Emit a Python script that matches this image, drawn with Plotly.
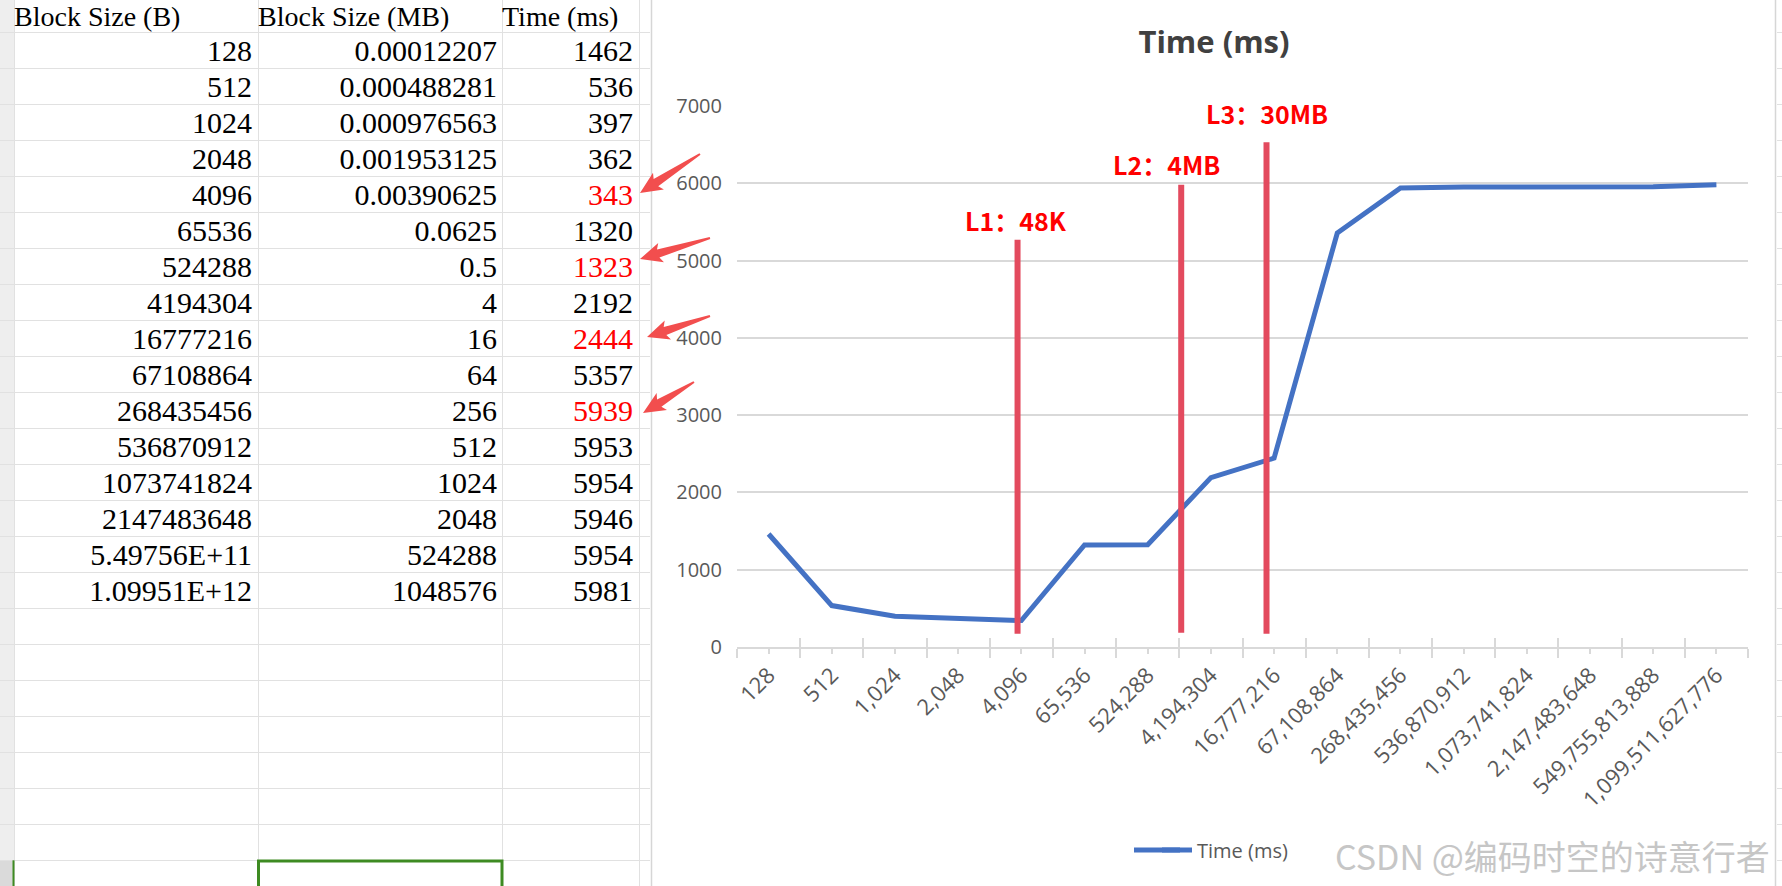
import math
from decimal import Decimal, ROUND_HALF_UP
import plotly.graph_objects as go

# ---------------- data ----------------
block_size_b = [128, 512, 1024, 2048, 4096, 65536, 524288, 4194304, 16777216,
                67108864, 268435456, 536870912, 1073741824, 2147483648,
                549755813888, 1099511627776]
time_ms = [1462, 536, 397, 362, 343, 1320, 1323, 2192, 2444, 5357, 5939,
           5953, 5954, 5946, 5954, 5981]
highlighted_blocks = [4096, 524288, 16777216, 268435456]   # red cells with arrows

header_labels = ["Block Size (B)", "Block Size (MB)", "Time (ms)"]

cache_labels = ["L1：48K", "L2：4MB", "L3：30MB"]
cache_pos = [3.94, 6.53, 7.88]        # position on the category axis
cache_top = [5270, 5980, 6530]
cache_bottom = [170, 185, 170]

series_name = "Time (ms)"
chart_title = "Time (ms)"
watermark = "CSDN @编码时空的诗意行者"

# ---------------- helpers ----------------
W, H = 1782, 886


def px(x):
    return x / W


def py(y):
    return 1 - y / H


def excel_general(v):
    s = str(v)
    if len(s) > 11:
        return f"{v:.5E}"
    return s


def excel_mb(b):
    d = Decimal(b) / Decimal(1048576)
    if d < 1:
        d = d.quantize(Decimal("0.000000001"), rounding=ROUND_HALF_UP)
    return format(d.normalize(), "f")


col_a = [excel_general(v) for v in block_size_b]
col_b = [excel_mb(v) for v in block_size_b]
col_c = [str(v) for v in time_ms]
colors_c = ["#FF0000" if b in highlighted_blocks else "#000000" for b in block_size_b]
xticktext = [f"{v:,}" for v in block_size_b]
n = len(block_size_b)
rows = list(range(n))

CHART_FONT = "Open Sans, Noto Sans, sans-serif"
SHEET_FONT = "Liberation Serif, Noto Sans CJK SC, serif"
GRID = "#D9D9D9"
SHEET_GRID = "#E1E1E1"


# row geometry of the sheet: row r center -> pixel 32.3 + (r + 0.5) * 36
def row_of(pix):
    return (pix - 32.3) / 36 - 0.5


y3_range = [row_of(H), row_of(0)]
text_dy = 0.08

fig = go.Figure()

# ---------------- spreadsheet ----------------
sheet_font = dict(family=SHEET_FONT, size=30, color="#000000")
for xpos, col in ((252, col_a), (497, col_b)):
    fig.add_trace(go.Scatter(
        x=[xpos] * n, y=[r + text_dy for r in rows], text=col, mode="text",
        textposition="middle left", textfont=sheet_font,
        xaxis="x3", yaxis="y3", showlegend=False, hoverinfo="skip", cliponaxis=False))
fig.add_trace(go.Scatter(
    x=[633] * n, y=[r + text_dy for r in rows], text=col_c, mode="text",
    textposition="middle left", textfont=dict(family=SHEET_FONT, size=30, color=colors_c),
    xaxis="x3", yaxis="y3", showlegend=False, hoverinfo="skip", cliponaxis=False))
fig.add_trace(go.Scatter(
    x=[14, 258, 502], y=[-1 + 0.14] * 3, text=header_labels, mode="text",
    textposition="middle right", textfont=dict(family=SHEET_FONT, size=28, color="#000000"),
    xaxis="x3", yaxis="y3", showlegend=False, hoverinfo="skip", cliponaxis=False))
# dummy trace so the sheet grid also shows right of the chart box
fig.add_trace(go.Scatter(x=[0.5], y=[None], mode="markers", xaxis="x4", yaxis="y3",
                         showlegend=False, hoverinfo="skip"))

# ---------------- chart ----------------
xs = list(range(n))
fig.add_trace(go.Scatter(
    x=xs, y=time_ms, mode="lines", name=series_name,
    line=dict(color="#4472C4", width=5), hoverinfo="skip"))
for pos, top, bot in zip(cache_pos, cache_top, cache_bottom):
    fig.add_trace(go.Scatter(
        x=[pos, pos], y=[bot, top], mode="lines",
        line=dict(color="#E34A5E", width=6), showlegend=False, hoverinfo="skip"))
# dummy for crossing ticks axis
fig.add_trace(go.Scatter(x=[-0.5], y=[None], mode="markers", xaxis="x2", yaxis="y",
                         showlegend=False, hoverinfo="skip"))

label_xshift = [-2, -15, 0]
label_yshift = [20, 21, 29]
annotations = []
for lab, pos, top, xs_, ys_ in zip(cache_labels, cache_pos, cache_top, label_xshift, label_yshift):
    annotations.append(dict(
        x=pos, y=top, xref="x", yref="y", text=lab, showarrow=False,
        xshift=xs_, yshift=ys_, xanchor="center", yanchor="middle",
        font=dict(family="Noto Sans CJK SC, sans-serif", size=25, color="#FF0000", weight="bold")))

annotations.append(dict(
    x=px(1333), y=py(855), xref="paper", yref="paper", text=watermark, showarrow=False,
    xanchor="left", yanchor="middle",
    font=dict(family="Noto Sans CJK SC, sans-serif", size=34, color="#C6C6C6")))

# ---------------- shapes ----------------
shapes = []
# chart box
shapes.append(dict(type="rect", xref="paper", yref="paper", x0=px(651.5), x1=px(1775.5),
                   y0=-0.05, y1=1.05, fillcolor="white", line=dict(color="#D6D6D6", width=1.5),
                   layer="below"))
# row header column
shapes.append(dict(type="rect", xref="x3", yref="y3", x0=0, x1=14, y0=-2, y1=22.5,
                   fillcolor="#EEEEEE", line=dict(width=0), layer="below"))
shapes.append(dict(type="rect", xref="x3", yref="y3", x0=0, x1=14, y0=22.5, y1=25,
                   fillcolor="#DADADA", line=dict(width=0), layer="below"))
# selected cell
shapes.append(dict(type="rect", xref="x3", yref="y3", x0=258.5, x1=502, y0=22.52, y1=25,
                   fillcolor="rgba(0,0,0,0)", line=dict(color="#3E8B22", width=3), layer="above"))
shapes.append(dict(type="line", xref="x3", yref="y3", x0=13.5, x1=13.5, y0=22.5, y1=25,
                   line=dict(color="#3E8B22", width=2), layer="above"))
# longer legend key line (Excel style)
shapes.append(dict(type="line", xref="paper", yref="paper", x0=px(1134), x1=px(1180),
                   y0=py(850), y1=py(850), line=dict(color="#4472C4", width=5), layer="above"))

# red pointer arrows (pixel geometry)
arrows = [((640, 193), (700, 154)), ((640, 259), (710, 238)),
          ((647, 337), (710, 316)), ((643, 413), (694, 382))]


def arrow_path(tip, tail, head_len=19, head_w=10, shaft_w=4.2, tail_w=1.0):
    tx, ty = tip
    sx, sy = tail
    dx, dy = tx - sx, ty - sy
    L = math.hypot(dx, dy)
    ux, uy = dx / L, dy / L
    nx, ny = -uy, ux
    bx, by = tx - ux * head_len, ty - uy * head_len
    pts = [
        (sx + nx * tail_w, sy + ny * tail_w),
        (bx + nx * shaft_w, by + ny * shaft_w),
        (bx + nx * head_w - ux * 3, by + ny * head_w - uy * 3),
        (tx, ty),
        (bx - nx * head_w - ux * 3, by - ny * head_w - uy * 3),
        (bx - nx * shaft_w, by - ny * shaft_w),
        (sx - nx * tail_w, sy - ny * tail_w),
    ]
    return "M " + " L ".join(f"{px(x):.5f},{py(y):.5f}" for x, y in pts) + " Z"


for tip, tail in arrows:
    shapes.append(dict(type="path", xref="paper", yref="paper", path=arrow_path(tip, tail),
                       fillcolor="#F24E4E", line=dict(width=0), layer="above"))

# ---------------- layout ----------------
no_axis = dict(showticklabels=False, ticks="", zeroline=False, showline=False, automargin=False)
fig.update_layout(
    width=W, height=H, margin=dict(l=0, r=0, t=0, b=0, pad=0, autoexpand=False),
    paper_bgcolor="white", plot_bgcolor="rgba(0,0,0,0)",
    hovermode=False,
    title=dict(text=chart_title, x=px(1214), y=py(42), xanchor="center", yanchor="middle",
               xref="paper", yref="container", automargin=False,
               font=dict(family=CHART_FONT, size=31, color="#404040", weight="bold")),
    xaxis=dict(domain=[px(737), px(1748)], range=[-0.5, n - 0.5], anchor="y", automargin=False,
               tickmode="array", tickvals=xs, ticktext=xticktext, tickangle=-45,
               ticks="outside", ticklen=5, tickwidth=1.5, tickcolor=GRID,
               minor=dict(tickmode="array", tickvals=[i - 0.5 for i in range(n + 1)],
                          ticks="outside", ticklen=9, tickwidth=1.5, tickcolor=GRID, showgrid=False),
               showline=True, linecolor=GRID, linewidth=1.5, showgrid=False, zeroline=False,
               tickfont=dict(family=CHART_FONT, size=22, color="#595959")),
    xaxis2=dict(domain=[px(737), px(1748)], range=[-0.5, n - 0.5], anchor="y", overlaying="x",
                tickmode="array", tickvals=[i - 0.5 for i in range(n + 1)],
                ticks="inside", ticklen=9, tickwidth=1.5, tickcolor=GRID, automargin=False,
                showticklabels=False, showgrid=False, zeroline=False, showline=False),
    yaxis=dict(domain=[py(647), py(106)], range=[0, 7000], anchor="x", automargin=False,
               tickmode="linear", tick0=0, dtick=1000,
               showgrid=True, gridcolor=GRID, gridwidth=1.5, zeroline=False, showline=False,
               ticks="", ticklabelstandoff=14,
               tickfont=dict(family=CHART_FONT, size=20, color="#595959")),
    xaxis3=dict(domain=[0, px(650)], range=[0, 650], anchor="y3",
                tickmode="array", tickvals=[14, 258, 502, 639],
                showgrid=True, gridcolor=SHEET_GRID, gridwidth=1, **no_axis),
    xaxis4=dict(domain=[px(1776.5), 1], range=[0, 1], anchor="y3", showgrid=False, **no_axis),
    yaxis3=dict(domain=[0, 1], range=y3_range, anchor="x3",
                tickmode="array", tickvals=[k - 0.5 for k in range(-1, 26)],
                showgrid=True, gridcolor=SHEET_GRID, gridwidth=1, **no_axis),
    legend=dict(orientation="h", x=px(1157), y=py(850), xanchor="left", yanchor="middle",
                bgcolor="rgba(0,0,0,0)", font=dict(family=CHART_FONT, size=20, color="#595959")),
    showlegend=True,
    annotations=annotations,
    shapes=shapes,
)

fig.write_html("out.html")
